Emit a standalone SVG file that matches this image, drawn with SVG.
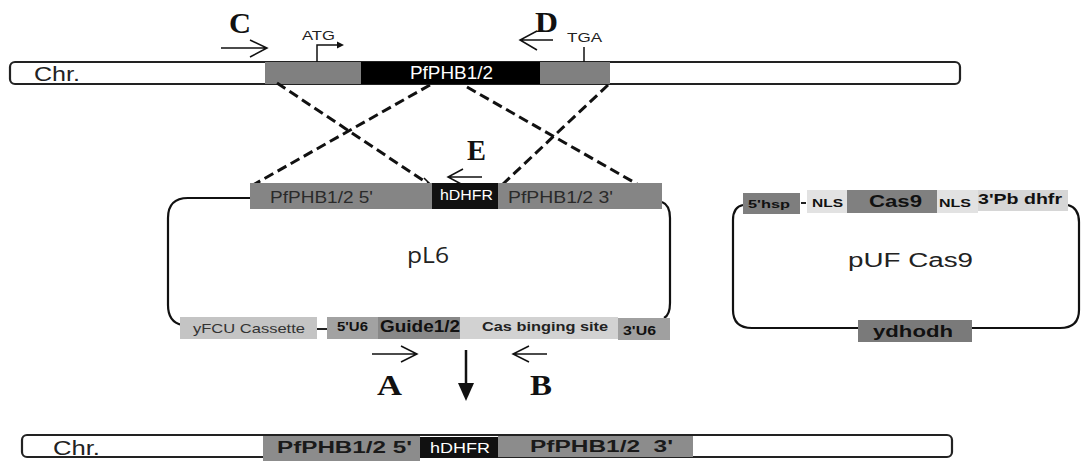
<svg xmlns="http://www.w3.org/2000/svg" width="1082" height="461" viewBox="0 0 1082 461">
<defs>
<style>
.bar{fill:#fff;stroke:#222;stroke-width:2.2}
.t{font-family:"Liberation Sans",Arial,sans-serif}
.b{font-family:"Liberation Sans",Arial,sans-serif;font-weight:bold}
.L{font-family:"Liberation Serif","Times New Roman",serif;font-weight:bold;font-size:30px;fill:#111}
.ln{fill:none;stroke:#111;stroke-width:1.5}
.loop{fill:none;stroke:#111;stroke-width:2.2}
.dash{fill:none;stroke:#111;stroke-width:3;stroke-dasharray:10,5}
</style>
</defs>

<g id="chr-top">
<rect class="bar" x="10" y="62" width="950" height="22" rx="5"/>
<rect x="265" y="62" width="96" height="22" fill="#808080"/>
<rect x="361" y="62" width="179" height="22" fill="#000"/>
<rect x="540" y="62" width="70" height="22" fill="#808080"/>
<text class="t" x="34" y="81" font-size="20" textLength="46" lengthAdjust="spacingAndGlyphs" fill="#222">Chr.</text>
<text class="t" x="410" y="79" font-size="18" textLength="83" lengthAdjust="spacingAndGlyphs" fill="#fff">PfPHB1/2</text>
<text class="t" x="302" y="40" font-size="12" textLength="33" lengthAdjust="spacingAndGlyphs" fill="#222">ATG</text>
<path class="ln" d="M317,62 V45 H341"/>
<path d="M344,45 L337,41.5 L337,48.5 Z" fill="#111"/>
<text class="t" x="567" y="42" font-size="12" textLength="35" lengthAdjust="spacingAndGlyphs" fill="#222">TGA</text>
<path class="ln" d="M584,47 V62"/>
</g>

<g id="primer-C">
<text class="L" x="229" y="33" textLength="22" lengthAdjust="spacingAndGlyphs">C</text>
<path class="ln" d="M221,48 H267 M250,40 L267,48 L250,57"/>
</g>

<g id="primer-D">
<text class="L" x="535" y="32" textLength="23" lengthAdjust="spacingAndGlyphs">D</text>
<path class="ln" d="M553,40 H520 M537,31 L520,40 L537,50"/>
</g>

<g id="connectors">
<path class="dash" d="M277,83 L430,185"/>
<path class="ln" d="M424,178 L431,185 L423,186"/>
<path class="dash" d="M430,85 L253,185"/>
<path class="dash" d="M467,87 L637,184"/>
<path class="dash" d="M608,85 L503,184" stroke-width="4" stroke-dasharray="12,5"/>
<path d="M466,350 V386" stroke="#111" stroke-width="2.5"/>
<path d="M458,383 L474,383 L466,401 Z" fill="#111"/>
</g>

<g id="primer-E">
<text class="L" x="467" y="160" textLength="19" lengthAdjust="spacingAndGlyphs">E</text>
<path class="ln" d="M482,177 H448 M463,169 L448,177 L463,185"/>
</g>

<g id="pL6">
<path class="loop" d="M250,198 H188 Q168,198 168,218 V305 Q168,322 182,325"/>
<path class="loop" d="M662,202 Q670,205 670,218 V303 Q670,315 664,318"/>
<rect x="250" y="183" width="412" height="26" fill="#858585"/>
<rect x="432" y="183" width="66" height="26" fill="#111"/>
<text class="t" x="270" y="203" font-size="16.5" textLength="103" lengthAdjust="spacingAndGlyphs" fill="#2a2a2a">PfPHB1/2 5'</text>
<text class="t" x="440" y="200" font-size="14" textLength="53" lengthAdjust="spacingAndGlyphs" fill="#fff">hDHFR</text>
<text class="t" x="508" y="203" font-size="16.5" textLength="105" lengthAdjust="spacingAndGlyphs" fill="#2a2a2a">PfPHB1/2 3'</text>
<text x="407" y="263" font-family="'Open Sans','Liberation Sans',sans-serif" font-size="21" textLength="42" lengthAdjust="spacingAndGlyphs" fill="#222">pL6</text>
<rect x="180" y="317" width="137" height="22" fill="#c4c4c4"/>
<path d="M317,329 H327" stroke="#222" stroke-width="2"/>
<rect x="327" y="317" width="51" height="22" fill="#a2a2a2"/>
<rect x="378" y="317" width="82" height="22" fill="#888"/>
<rect x="460" y="317" width="158" height="22" fill="#d2d2d2"/>
<rect x="618" y="318" width="52" height="22" fill="#a0a0a0"/>
<text class="t" x="193" y="333" font-size="13" textLength="112" lengthAdjust="spacingAndGlyphs" fill="#333">yFCU Cassette</text>
<text class="b" x="337" y="331" font-size="12" textLength="31" lengthAdjust="spacingAndGlyphs" fill="#111">5'U6</text>
<text class="b" x="380" y="332" font-size="16" textLength="80" lengthAdjust="spacingAndGlyphs" fill="#111">Guide1/2</text>
<text class="b" x="482" y="331" font-size="13" textLength="126" lengthAdjust="spacingAndGlyphs" fill="#222">Cas binging site</text>
<text class="b" x="623" y="335" font-size="12" textLength="33" lengthAdjust="spacingAndGlyphs" fill="#111">3'U6</text>
</g>

<g id="primer-A">
<path class="ln" d="M372,354 H417 M401,346 L417,354 L401,362"/>
<text class="L" x="377" y="395" textLength="25" lengthAdjust="spacingAndGlyphs">A</text>
</g>

<g id="primer-B">
<path class="ln" d="M547,354 H513 M529,346 L513,354 L529,362"/>
<text class="L" x="530" y="395" textLength="22" lengthAdjust="spacingAndGlyphs">B</text>
</g>

<g id="pUF-Cas9">
<path class="loop" d="M743,205 Q733,207 733,220 V310 Q733,328 752,328 H858"/>
<path class="loop" d="M972,328 H1060 Q1079,328 1079,310 V222 Q1079,208 1068,205"/>
<rect x="743" y="193" width="57" height="21" fill="#7e7e7e"/>
<path d="M801,203 H806" stroke="#222" stroke-width="2"/>
<rect x="807" y="190" width="40" height="23" fill="#e2e2e2"/>
<rect x="847" y="190" width="90" height="23" fill="#808080"/>
<rect x="937" y="190" width="41" height="23" fill="#e2e2e2"/>
<rect x="978" y="190" width="90" height="21" fill="#d6d6d6"/>
<text class="b" x="748" y="208" font-size="11" textLength="42" lengthAdjust="spacingAndGlyphs" fill="#111">5'hsp</text>
<text class="b" x="812" y="207" font-size="11" textLength="31" lengthAdjust="spacingAndGlyphs" fill="#111">NLS</text>
<text class="b" x="869" y="207" font-size="16" textLength="53" lengthAdjust="spacingAndGlyphs" fill="#111">Cas9</text>
<text class="b" x="939" y="207" font-size="11" textLength="32" lengthAdjust="spacingAndGlyphs" fill="#111">NLS</text>
<text class="b" x="978" y="204" font-size="14" textLength="84" lengthAdjust="spacingAndGlyphs" fill="#111">3'Pb dhfr</text>
<text class="t" x="848" y="267" font-size="20" textLength="125" lengthAdjust="spacingAndGlyphs" fill="#222">pUF Cas9</text>
<rect x="858" y="320" width="114" height="22" fill="#7a7a7a"/>
<text class="b" x="873" y="337" font-size="16" textLength="80" lengthAdjust="spacingAndGlyphs" fill="#111">ydhodh</text>
</g>

<g id="chr-bottom">
<rect class="bar" x="22" y="435" width="930" height="22" rx="5"/>
<rect x="263" y="436" width="157" height="25" fill="#8c8c8c"/>
<rect x="420" y="437" width="78" height="21" fill="#111"/>
<rect x="498" y="436" width="195" height="21" fill="#8c8c8c"/>
<text x="53" y="455" font-family="'Liberation Sans Narrow','Liberation Sans',sans-serif" font-size="20" textLength="47" lengthAdjust="spacingAndGlyphs" fill="#222">Chr.</text>
<text class="b" x="277" y="453" font-size="16" textLength="135" lengthAdjust="spacingAndGlyphs" fill="#1a1a1a">PfPHB1/2 5'</text>
<text class="t" x="430" y="453" font-size="15" textLength="60" lengthAdjust="spacingAndGlyphs" fill="#fff">hDHFR</text>
<text class="b" x="530" y="452" font-size="16" textLength="143" lengthAdjust="spacingAndGlyphs" fill="#1a1a1a" xml:space="preserve">PfPHB1/2  3'</text>
</g>
</svg>
